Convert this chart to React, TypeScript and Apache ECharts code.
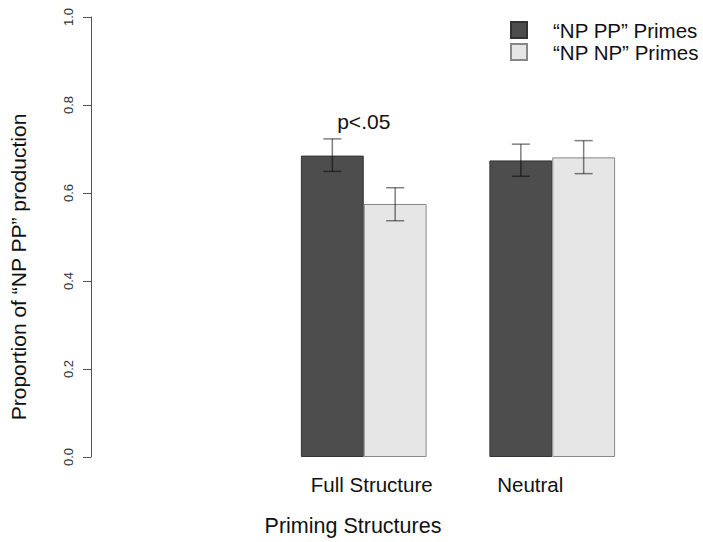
import React, { useEffect, useRef } from "react";
import * as echarts from "echarts";

const categories = ["Full Structure", "Neutral"];
const seriesNames = ["“NP PP” Primes", "“NP NP” Primes"];
const npppMeans = [0.685, 0.674];
const npppLow = [0.649, 0.638];
const npppHigh = [0.723, 0.711];
const npnpMeans = [0.575, 0.681];
const npnpLow = [0.537, 0.644];
const npnpHigh = [0.612, 0.719];
const annotationText = "p<.05";
const annotationCategory = 0;
const annotationValue = 0.763;
const yMin = 0;
const yMax = 1;
const yInterval = 0.2;

const FONT = "'Liberation Sans', Arial, Helvetica, sans-serif";

function errorSeries(name: string, low: number[], high: number[], sign: number) {
  return {
    type: "custom",
    name: name + " error",
    data: low.map((l, i) => [i, l, high[i]]),
    encode: { x: 0, y: [1, 2] },
    z: 5,
    silent: true,
    renderItem: (params: any, api: any) => {
      const x = api.value(0);
      const lo = api.value(1);
      const hi = api.value(2);
      const top = api.coord([x, hi]);
      const bot = api.coord([x, lo]);
      const band = api.size([1, 0])[0];
      const cx = top[0] + (sign * band) / 6;
      const cap = 9;
      const style = { stroke: "rgba(0,0,0,0.5)", lineWidth: 1.5 };
      return {
        type: "group",
        children: [
          { type: "line", shape: { x1: cx, y1: top[1], x2: cx, y2: bot[1] }, style },
          { type: "line", shape: { x1: cx - cap, y1: top[1], x2: cx + cap, y2: top[1] }, style },
          { type: "line", shape: { x1: cx - cap, y1: bot[1], x2: cx + cap, y2: bot[1] }, style },
        ],
      };
    },
  };
}

export default function App() {
  const ref = useRef<HTMLDivElement>(null);
  useEffect(() => {
    if (!ref.current) return;
    const chart = echarts.init(ref.current, null, { renderer: "svg" });
    chart.setOption({
      animation: false,
      backgroundColor: "#ffffff",
      textStyle: { fontFamily: FONT },
      grid: { left: 268.5, right: 56.5, top: 17, bottom: 81.5, containLabel: false },
      legend: {
        data: seriesNames,
        orient: "vertical",
        left: 510,
        top: 19,
        padding: 0,
        itemGap: 0,
        itemWidth: 16,
        itemHeight: 16,
        icon: "rect",
        selectedMode: false,
        textStyle: {
          fontFamily: FONT,
          fontSize: 20.5,
          lineHeight: 22,
          color: "#111",
          padding: [0, 0, 0, 21],
        },
      },
      xAxis: {
        type: "category",
        data: categories,
        axisLine: { show: false },
        axisTick: { show: false },
        axisLabel: {
          interval: 0,
          margin: 17,
          fontFamily: FONT,
          fontSize: 20.5,
          color: "#111",
          formatter: (v: string) => (v === categories[0] ? `{a|${v}}` : `{b|${v}}`),
          rich: {
            a: { fontFamily: FONT, fontSize: 20.5, color: "#111", padding: [0, 0, 0, 16] },
            b: { fontFamily: FONT, fontSize: 20.5, color: "#111", padding: [0, 44, 0, 0] },
          },
        },
        name: "Priming Structures",
        nameLocation: "middle",
        nameGap: 58,
        nameTextStyle: {
          fontFamily: FONT,
          fontSize: 21.5,
          color: "#111",
          padding: [0, 210, 0, 0],
        },
      },
      yAxis: {
        type: "value",
        min: yMin,
        max: yMax,
        interval: yInterval,
        offset: 178.5,
        splitLine: { show: false },
        axisLine: { show: true, lineStyle: { color: "#555", width: 1 } },
        axisTick: { show: true, length: 8, lineStyle: { color: "#555", width: 1 } },
        axisLabel: {
          rotate: 90,
          margin: 16,
          fontFamily: FONT,
          fontSize: 13,
          color: "#333",
          formatter: (v: number) => v.toFixed(1),
        },
        name: "Proportion of “NP PP” production",
        nameLocation: "middle",
        nameRotate: 90,
        nameGap: 62,
        nameTextStyle: {
          fontFamily: FONT,
          fontSize: 21,
          color: "#111",
          padding: [0, 60, 0, 0],
        },
      },
      series: [
        {
          type: "bar",
          name: seriesNames[0],
          data: npppMeans,
          barGap: "0%",
          barCategoryGap: "33.3%",
          itemStyle: { color: "#4d4d4d", borderColor: "#333", borderWidth: 1 },
        },
        {
          type: "bar",
          name: seriesNames[1],
          data: npnpMeans,
          barGap: "0%",
          barCategoryGap: "33.3%",
          itemStyle: { color: "#e6e6e6", borderColor: "#888", borderWidth: 1 },
        },
        errorSeries(seriesNames[0], npppLow, npppHigh, -1),
        errorSeries(seriesNames[1], npnpLow, npnpHigh, 1),
        {
          type: "custom",
          name: "annotation",
          data: [[annotationCategory, annotationValue]],
          encode: { x: 0, y: 1 },
          silent: true,
          z: 6,
          renderItem: (params: any, api: any) => {
            const p = api.coord([api.value(0), api.value(1)]);
            return {
              type: "text",
              x: p[0],
              y: p[1],
              style: {
                text: annotationText,
                fontFamily: FONT,
                fontSize: 21,
                fill: "#111",
                align: "center",
                verticalAlign: "middle",
              },
            };
          },
        },
      ],
    });
    return () => chart.dispose();
  }, []);
  return (
    <div
      ref={ref}
      style={{ position: "fixed", left: 0, top: 0, width: 703, height: 542 }}
    />
  );
}
